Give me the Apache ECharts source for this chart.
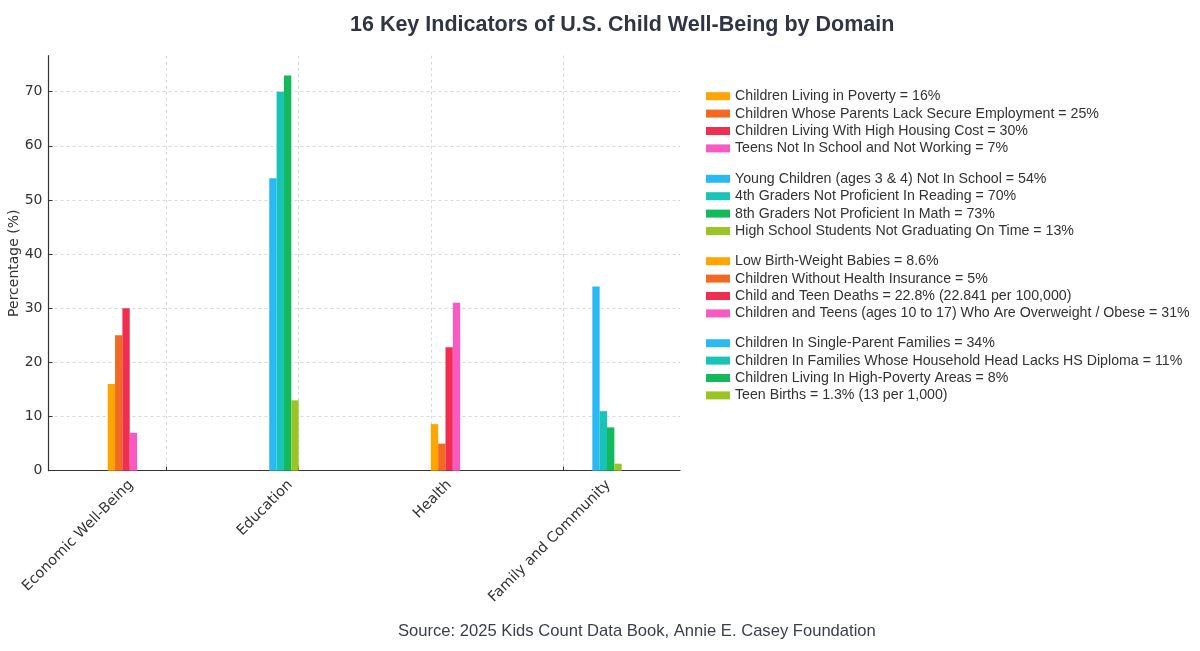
<!DOCTYPE html>
<html>
<head>
<meta charset="utf-8">
<script src="https://cdn.jsdelivr.net/npm/echarts@6/dist/echarts.min.js"></script>
<style>html,body{margin:0;padding:0;background:#fff}#c{width:1200px;height:651px}</style>
</head>
<body>
<div id="c"></div>
<script>
// ---- data ----
const domains = ['Economic Well-Being', 'Education', 'Health', 'Family and Community'];
const indicatorLabels = [
  'Children Living in Poverty = 16%',
  'Children Whose Parents Lack Secure Employment = 25%',
  'Children Living With High Housing Cost = 30%',
  'Teens Not In School and Not Working = 7%',
  'Young Children (ages 3 & 4) Not In School = 54%',
  '4th Graders Not Proficient In Reading = 70%',
  '8th Graders Not Proficient In Math = 73%',
  'High School Students Not Graduating On Time = 13%',
  'Low Birth-Weight Babies = 8.6%',
  'Children Without Health Insurance = 5%',
  'Child and Teen Deaths = 22.8% (22.841 per 100,000)',
  'Children and Teens (ages 10 to 17) Who Are Overweight / Obese = 31%',
  'Children In Single-Parent Families = 34%',
  'Children In Families Whose Household Head Lacks HS Diploma = 11%',
  'Children Living In High-Poverty Areas = 8%',
  'Teen Births = 1.3% (13 per 1,000)'
];
const indicatorValues = [16, 25, 30, 7, 54, 70, 73, 13, 8.6, 5, 22.8, 31, 34, 11, 8, 1.3];
const indicatorDomain = [0, 0, 0, 0, 1, 1, 1, 1, 2, 2, 2, 2, 3, 3, 3, 3];
const colors = ['#FFA500', '#F26A21', '#F02F50', '#F75AC3',
                '#2BB9F5', '#17C4B6', '#13B95B', '#9BC522',
                '#FFA500', '#F26A21', '#F02F50', '#F75AC3',
                '#2BB9F5', '#17C4B6', '#13B95B', '#9BC522'];
const domainTicks = [0, 1, 2, 3];
const yTicks = [0, 10, 20, 30, 40, 50, 60, 70];

// ---- chart ----
const chart = echarts.init(document.getElementById('c'));
const axisFont = 'DejaVu Sans';
const textFont = 'Liberation Sans';

const series = indicatorLabels.map((name, i) => ({
  name: name,
  type: 'bar',
  xAxisIndex: 0,
  yAxisIndex: 0,
  barWidth: 7.35,
  barGap: '0%',
  itemStyle: { color: colors[i] },
  data: [[indicatorDomain[i], indicatorValues[i]]]
}));

const legends = [0, 1, 2, 3].map(g => ({
  orient: 'vertical',
  left: 706,
  top: [89.2, 171.8, 254.2, 336.2][g],
  padding: 0,
  icon: 'rect',
  itemWidth: 24,
  itemHeight: 8,
  itemGap: 3.4,
  textStyle: { fontFamily: textFont, fontSize: 14.2, color: '#333', lineHeight: 14 },
  data: indicatorLabels.slice(g * 4, g * 4 + 4)
}));

const option = {
  animation: false,
  backgroundColor: '#fff',
  title: [
    { text: '16 Key Indicators of U.S. Child Well-Being by Domain', left: 350, top: 14, padding: 0,
      textStyle: { fontFamily: textFont, fontWeight: 'bold', fontSize: 21.5, color: '#2f3542' } },
    { text: 'Source: 2025 Kids Count Data Book, Annie E. Casey Foundation', left: 398, top: 623, padding: 0,
      textStyle: { fontFamily: textFont, fontWeight: 'normal', fontSize: 16.6, color: '#3a3f4a' } }
  ],
  legend: legends,
  grid: [
    { left: 48.5, right: 520, top: 55.7, bottom: 180.3, outerBoundsMode: 'none' },
    { left: 51.5, right: 512, top: 55.7, bottom: 180.3, outerBoundsMode: 'none' }
  ],
  xAxis: [
    {
      type: 'value', gridIndex: 0,
      min: -0.893, max: 3.886,
      axisLine: { show: true, onZero: false, lineStyle: { color: '#333', width: 1.2 } },
      axisTick: { show: true, inside: true, length: 4, customValues: domainTicks, lineStyle: { color: '#333' } },
      axisLabel: { show: false },
      splitLine: { show: true, lineStyle: { color: '#cfcfcf', type: [3, 3], width: 0.8 } }
    },
    {
      type: 'category', gridIndex: 1, data: domains, boundaryGap: true,
      axisLine: { show: false }, axisTick: { show: false }, splitLine: { show: false },
      axisLabel: { rotate: 45, margin: 12, fontFamily: axisFont, fontSize: 14.4, color: '#333', interval: 0 }
    }
  ],
  yAxis: [
    {
      type: 'value', gridIndex: 0, min: 0, max: 76.65,
      name: 'Percentage (%)', nameLocation: 'middle', nameGap: 27, nameMoveOverlap: false,
      nameTextStyle: { fontFamily: axisFont, fontSize: 14, color: '#333' },
      axisLine: { show: true, onZero: false, lineStyle: { color: '#333', width: 1.2 } },
      axisTick: { show: true, inside: true, length: 4, customValues: yTicks, lineStyle: { color: '#333' } },
      axisLabel: { fontFamily: axisFont, fontSize: 14, color: '#333', margin: 6, customValues: yTicks },
      splitLine: { show: true, lineStyle: { color: '#cfcfcf', type: [3, 3], width: 0.8 } }
    },
    { type: 'value', gridIndex: 1, show: false, min: 0, max: 76.65 }
  ],
  series: series
};
chart.setOption(option);
</script>
</body>
</html>
